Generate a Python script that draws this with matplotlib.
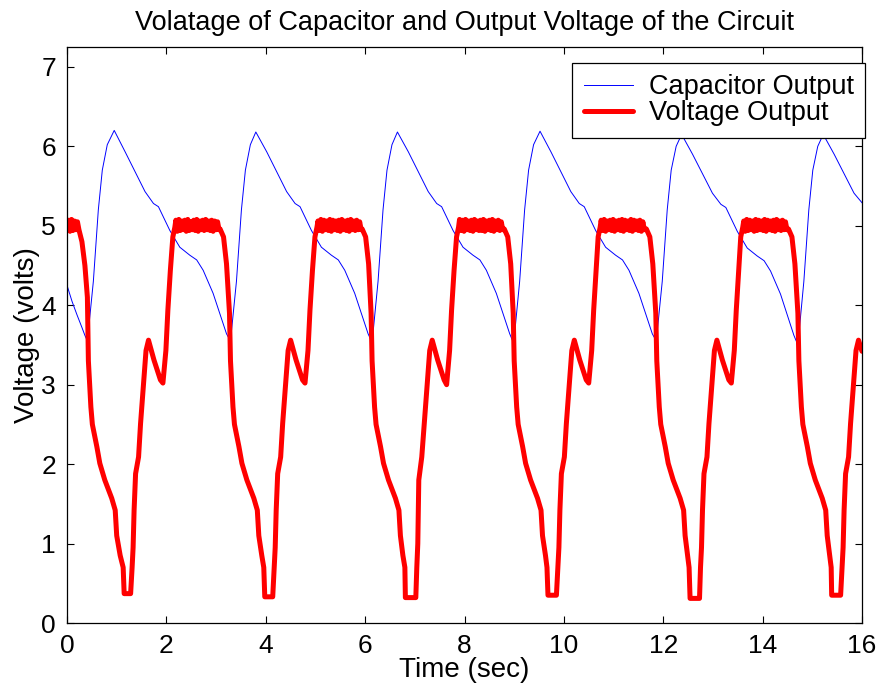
import matplotlib
matplotlib.use("Agg")
import matplotlib.pyplot as plt

plt.rcParams['font.family'] = ['Liberation Sans', 'DejaVu Sans']

# capacitor voltage (blue)
cap_t = [0.00, 0.10, 0.20, 0.30, 0.36, 0.41, 0.53, 0.63, 0.71, 0.81, 0.95,
         1.17, 1.57, 1.74, 1.84, 2.07, 2.27, 2.47, 2.61, 2.74, 2.94, 3.21, 3.29,
         3.41, 3.51, 3.59, 3.69, 3.80,
         4.02, 4.42, 4.59, 4.69, 4.92, 5.12, 5.32, 5.46, 5.59, 5.79, 6.06, 6.14,
         6.26, 6.36, 6.44, 6.54, 6.65,
         6.87, 7.27, 7.44, 7.54, 7.77, 7.97, 8.17, 8.31, 8.44, 8.64, 8.91, 8.99,
         9.11, 9.21, 9.29, 9.39, 9.52,
         9.74, 10.14, 10.31, 10.41, 10.64, 10.84, 11.04, 11.18, 11.31, 11.51, 11.78, 11.86,
         11.98, 12.08, 12.16, 12.26, 12.37,
         12.59, 12.99, 13.16, 13.26, 13.49, 13.69, 13.89, 14.03, 14.16, 14.36, 14.63, 14.71,
         14.83, 14.93, 15.01, 15.11, 15.22,
         15.44, 15.84, 16.00]
cap_v = [4.25, 4.05, 3.88, 3.72, 3.62, 3.55, 4.30, 5.20, 5.70, 6.02, 6.20,
         5.93, 5.43, 5.28, 5.24, 4.94, 4.73, 4.63, 4.57, 4.44, 4.15, 3.64, 3.55,
         4.30, 5.20, 5.70, 6.02, 6.18,
         5.93, 5.43, 5.28, 5.24, 4.94, 4.73, 4.63, 4.57, 4.44, 4.15, 3.64, 3.53,
         4.30, 5.20, 5.70, 6.02, 6.18,
         5.93, 5.43, 5.28, 5.24, 4.94, 4.73, 4.63, 4.57, 4.44, 4.15, 3.64, 3.52,
         4.30, 5.20, 5.70, 6.02, 6.19,
         5.93, 5.43, 5.28, 5.24, 4.94, 4.73, 4.63, 4.57, 4.44, 4.15, 3.64, 3.55,
         4.30, 5.20, 5.70, 6.00, 6.15,
         5.90, 5.41, 5.27, 5.23, 4.93, 4.72, 4.62, 4.56, 4.43, 4.14, 3.62, 3.50,
         4.30, 5.20, 5.70, 6.00, 6.15,
         5.90, 5.41, 5.29]

# circuit output voltage (red); the flat tops carry the ripple seen in the picture
out_t = [0.00, 0.03, 0.06, 0.09, 0.12, 0.15, 0.18, 0.21, 0.24, 0.30, 0.36, 0.41,
         0.43, 0.48, 0.51, 0.60, 0.66, 0.76, 0.90, 0.97, 1.00, 1.07, 1.13, 1.15, 1.28,
         1.31, 1.33, 1.35, 1.38, 1.44, 1.48, 1.52, 1.56, 1.59, 1.64, 1.75, 1.88, 1.93,
         1.99, 2.03, 2.08, 2.13, 2.17,
         2.19, 2.22, 2.25, 2.28, 2.31, 2.34, 2.37, 2.40, 2.43, 2.46, 2.49, 2.52, 2.55, 2.58, 2.61,
         2.64, 2.67, 2.70, 2.73, 2.76, 2.79, 2.82, 2.85, 2.88, 2.91, 2.94, 2.97, 3.00, 3.03, 3.06,
         3.08, 3.15, 3.21, 3.27,
         3.29, 3.34, 3.37, 3.46, 3.52, 3.62, 3.76, 3.83, 3.86, 3.92, 3.96, 3.98, 4.14,
         4.17, 4.19, 4.21, 4.24, 4.30, 4.34, 4.38, 4.42, 4.45, 4.50, 4.61, 4.74, 4.79,
         4.85, 4.89, 4.94, 4.99, 5.03,
         5.05, 5.08, 5.11, 5.14, 5.17, 5.20, 5.23, 5.26, 5.29, 5.32, 5.35, 5.38, 5.41, 5.44, 5.47,
         5.50, 5.53, 5.56, 5.59, 5.62, 5.65, 5.68, 5.71, 5.74, 5.77, 5.80, 5.83, 5.86, 5.89, 5.92,
         5.94, 6.01, 6.07, 6.12,
         6.14, 6.19, 6.22, 6.31, 6.37, 6.47, 6.61, 6.68, 6.71, 6.76, 6.80, 6.81, 7.02,
         7.04, 7.06, 7.08, 7.14, 7.19, 7.23, 7.27, 7.30, 7.35, 7.46, 7.59, 7.64,
         7.70, 7.74, 7.79, 7.84, 7.88,
         7.90, 7.93, 7.96, 7.99, 8.02, 8.05, 8.08, 8.11, 8.14, 8.17, 8.20, 8.23, 8.26, 8.29, 8.32,
         8.35, 8.38, 8.41, 8.44, 8.47, 8.50, 8.53, 8.56, 8.59, 8.62, 8.65, 8.68, 8.71, 8.74, 8.77,
         8.80, 8.87, 8.93, 8.98,
         9.00, 9.05, 9.08, 9.17, 9.23, 9.33, 9.47, 9.54, 9.57, 9.63, 9.66, 9.68, 9.85,
         9.88, 9.90, 9.92, 9.95, 10.01, 10.05, 10.09, 10.13, 10.16, 10.21, 10.32, 10.45, 10.50,
         10.56, 10.60, 10.65, 10.69, 10.73,
         10.75, 10.78, 10.81, 10.84, 10.87, 10.90, 10.93, 10.96, 10.99, 11.02, 11.05, 11.08,
         11.11, 11.14, 11.17, 11.20, 11.23, 11.26, 11.29, 11.32, 11.35, 11.38, 11.41, 11.44,
         11.47, 11.50, 11.53, 11.56, 11.59, 11.62,
         11.66, 11.73, 11.79, 11.85,
         11.87, 11.92, 11.95, 12.04, 12.10, 12.20, 12.34, 12.41, 12.44, 12.49, 12.52, 12.54, 12.73,
         12.75, 12.77, 12.79, 12.82, 12.88, 12.92, 12.96, 13.00, 13.03, 13.08, 13.19, 13.32, 13.37,
         13.43, 13.47, 13.52, 13.56, 13.60,
         13.62, 13.65, 13.68, 13.71, 13.74, 13.77, 13.80, 13.83, 13.86, 13.89, 13.92, 13.95,
         13.98, 14.01, 14.04, 14.07, 14.10, 14.13, 14.16, 14.19, 14.22, 14.25, 14.28, 14.31,
         14.34, 14.37, 14.40, 14.43, 14.46, 14.49,
         14.52, 14.59, 14.65, 14.71,
         14.73, 14.78, 14.81, 14.90, 14.96, 15.06, 15.20, 15.27, 15.30, 15.35, 15.38, 15.39, 15.57,
         15.60, 15.62, 15.64, 15.67, 15.73, 15.77, 15.81, 15.85, 15.88, 15.93, 16.00]
out_v = [4.97, 5.07, 4.93, 5.08, 4.94, 5.06, 4.95, 5.05, 4.95, 4.80, 4.50, 4.10,
         3.30, 2.72, 2.50, 2.22, 2.01, 1.80, 1.57, 1.42, 1.10, 0.85, 0.70, 0.37, 0.37,
         0.70, 0.95, 1.42, 1.88, 2.09, 2.51, 2.85, 3.18, 3.43, 3.56, 3.31, 3.06, 3.02,
         3.43, 3.94, 4.44, 4.86, 4.98,
         5.07, 4.93, 5.08, 4.94, 5.06, 4.95, 5.07, 4.93, 5.08, 4.94, 5.05, 4.95, 5.07, 4.94, 5.08,
         4.93, 5.06, 4.95, 5.07, 4.94, 5.08, 4.95, 5.06, 4.94, 5.07, 4.93, 5.06, 4.95, 5.05, 4.95,
         4.96, 4.86, 4.52, 3.90,
         3.30, 2.72, 2.50, 2.22, 2.01, 1.80, 1.57, 1.42, 1.10, 0.85, 0.70, 0.33, 0.33,
         0.70, 0.95, 1.42, 1.88, 2.09, 2.51, 2.85, 3.18, 3.43, 3.56, 3.31, 3.06, 3.02,
         3.43, 3.94, 4.44, 4.86, 4.98,
         5.06, 4.94, 5.08, 4.93, 5.07, 4.95, 5.06, 4.94, 5.08, 4.93, 5.07, 4.95, 5.06, 4.94, 5.07,
         4.93, 5.08, 4.95, 5.06, 4.94, 5.07, 4.93, 5.08, 4.95, 5.06, 4.94, 5.07, 4.95, 5.05, 4.95,
         4.96, 4.86, 4.52, 3.90,
         3.30, 2.72, 2.50, 2.22, 2.01, 1.80, 1.57, 1.42, 1.10, 0.85, 0.70, 0.32, 0.32,
         0.70, 1.00, 1.80, 2.09, 2.51, 2.85, 3.18, 3.43, 3.56, 3.31, 3.06, 3.00,
         3.43, 3.94, 4.44, 4.86, 4.98,
         5.08, 4.94, 5.07, 4.93, 5.08, 4.95, 5.06, 4.94, 5.07, 4.93, 5.08, 4.95, 5.06, 4.94, 5.07,
         4.94, 5.08, 4.93, 5.06, 4.95, 5.07, 4.94, 5.08, 4.93, 5.06, 4.95, 5.07, 4.94, 5.05, 4.95,
         4.96, 4.86, 4.52, 3.90,
         3.30, 2.72, 2.50, 2.22, 2.01, 1.80, 1.57, 1.42, 1.10, 0.85, 0.70, 0.35, 0.35,
         0.70, 0.95, 1.42, 1.88, 2.09, 2.51, 2.85, 3.18, 3.43, 3.56, 3.31, 3.06, 3.02,
         3.43, 3.94, 4.44, 4.86, 4.98,
         5.07, 4.94, 5.08, 4.93, 5.06, 4.95, 5.07, 4.94, 5.08, 4.93, 5.06, 4.95,
         5.07, 4.94, 5.08, 4.93, 5.07, 4.95, 5.06, 4.94, 5.08, 4.93, 5.07, 4.95,
         5.06, 4.94, 5.07, 4.93, 5.05, 4.95,
         4.96, 4.86, 4.52, 3.90,
         3.30, 2.72, 2.50, 2.22, 2.01, 1.80, 1.57, 1.42, 1.10, 0.85, 0.70, 0.31, 0.31,
         0.70, 0.95, 1.42, 1.88, 2.09, 2.51, 2.85, 3.18, 3.43, 3.56, 3.31, 3.06, 3.02,
         3.43, 3.94, 4.44, 4.86, 4.98,
         5.06, 4.93, 5.08, 4.94, 5.07, 4.95, 5.06, 4.93, 5.08, 4.94, 5.07, 4.95,
         5.06, 4.94, 5.08, 4.93, 5.07, 4.95, 5.06, 4.94, 5.07, 4.93, 5.08, 4.95,
         5.06, 4.94, 5.07, 4.95, 5.05, 4.95,
         4.96, 4.86, 4.52, 3.90,
         3.30, 2.72, 2.50, 2.22, 2.01, 1.80, 1.57, 1.42, 1.10, 0.85, 0.70, 0.35, 0.35,
         0.70, 0.95, 1.42, 1.88, 2.09, 2.51, 2.85, 3.18, 3.43, 3.56, 3.42]

x_ticks = [0, 2, 4, 6, 8, 10, 12, 14, 16]
y_ticks = [0, 1, 2, 3, 4, 5, 6, 7]

fig = plt.figure(figsize=(8.83, 6.86), dpi=100)
ax = fig.add_axes([0.0759, 0.0918, 0.9003, 0.8397])

ax.plot(cap_t, cap_v, color="#0000ff", lw=0.7, label="Capacitor Output")
ax.plot(out_t, out_v, color="#ff0000", lw=3.6, solid_joinstyle="round",
        solid_capstyle="round", label="Voltage Output")

ax.set_xlim(0, 16)
ax.set_ylim(0, 7.25)
ax.set_xticks(x_ticks)
ax.set_yticks(y_ticks)
ax.tick_params(direction="in", top=True, right=True, length=5, width=0.8,
               labelsize=19, pad=8)
for s in ax.spines.values():
    s.set_linewidth(0.9)

ax.set_title("Volatage of Capacitor and Output Voltage of the Circuit",
             fontsize=19.5, pad=12)
ax.set_xlabel("Time (sec)", fontsize=20, labelpad=-1)
ax.set_ylabel("Voltage (volts)", fontsize=20, labelpad=1)

leg = ax.legend(loc="upper right", bbox_to_anchor=(1.004, 0.972), borderaxespad=0,
                fontsize=19.5, fancybox=False, framealpha=1, edgecolor="black",
                labelspacing=0.0, handlelength=1.8, handletextpad=0.6,
                borderpad=0.42)
leg.get_frame().set_linewidth(0.9)

fig.savefig("out.png", dpi=100)
